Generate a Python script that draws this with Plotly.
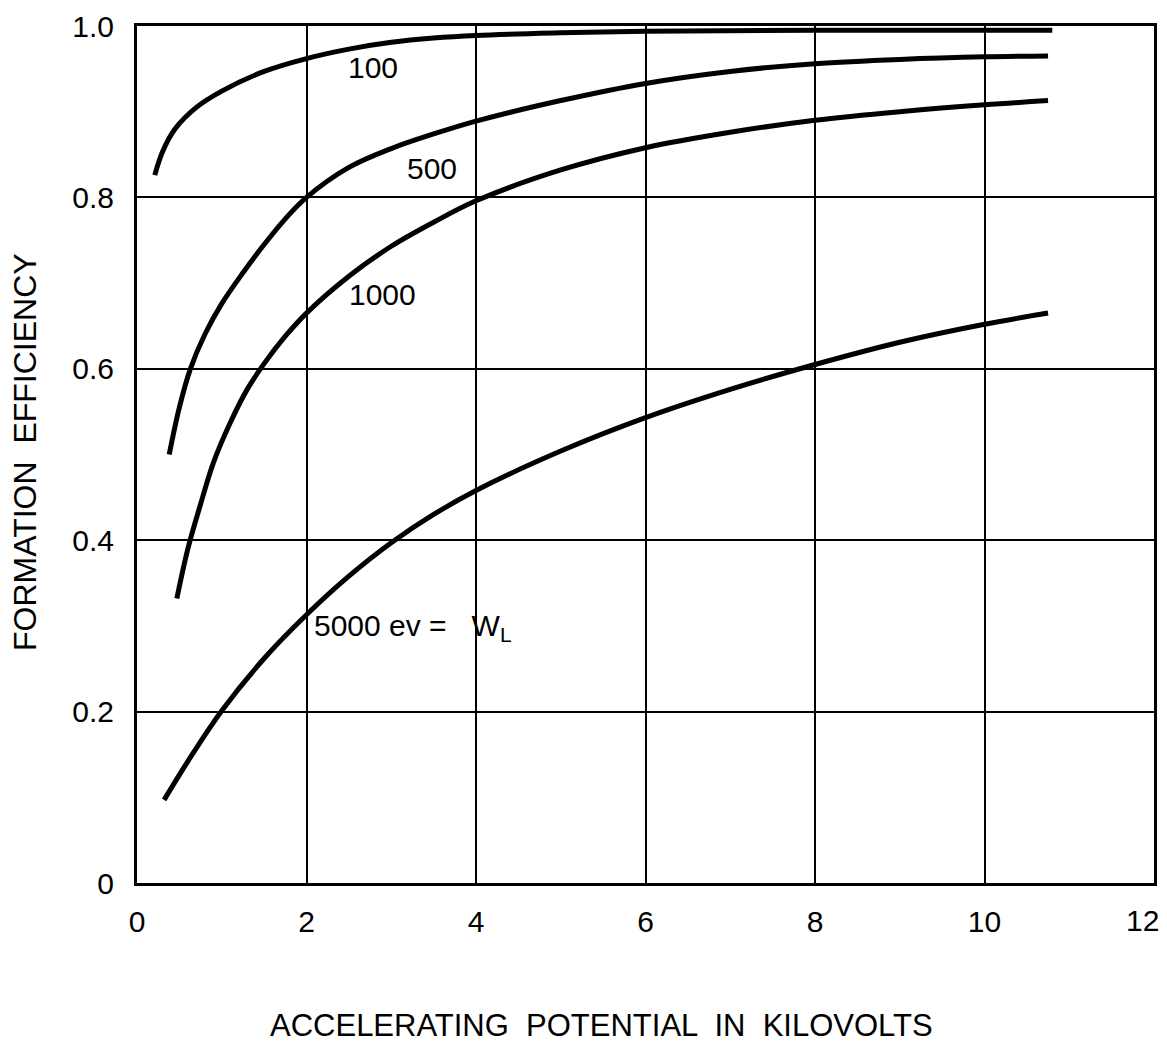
import plotly.graph_objects as go

# ---- data ----
x_100 = [0.21, 0.3, 0.45, 0.7, 1.0, 1.5, 2.0, 2.5, 3.0, 3.5, 4.0, 5.0, 6.0, 8.0, 10.8]
y_100 = [0.826, 0.853, 0.880, 0.905, 0.924, 0.947, 0.962, 0.973, 0.981, 0.986, 0.989, 0.992, 0.994, 0.995, 0.995]

x_500 = [0.38, 0.5, 0.63, 0.8, 1.0, 1.25, 1.5, 1.75, 2.0, 2.5, 3.0, 3.5, 4.0, 5.0, 6.0, 7.0, 8.0, 9.0, 10.0, 10.75]
y_500 = [0.50, 0.555, 0.60, 0.640, 0.676, 0.712, 0.745, 0.775, 0.80, 0.835, 0.857, 0.874, 0.889, 0.913, 0.933, 0.947, 0.956, 0.961, 0.964, 0.965]

x_1000 = [0.47, 0.6, 0.75, 0.9, 1.1, 1.3, 1.5, 1.75, 2.0, 2.5, 3.0, 3.5, 4.0, 5.0, 6.0, 7.0, 8.0, 9.0, 10.0, 10.75]
y_1000 = [0.332, 0.39, 0.442, 0.49, 0.537, 0.576, 0.606, 0.638, 0.665, 0.708, 0.743, 0.771, 0.796, 0.832, 0.858, 0.876, 0.890, 0.900, 0.908, 0.913]

x_5000 = [0.32, 0.6, 1.0, 1.5, 2.0, 2.5, 3.0, 3.5, 4.0, 5.0, 6.0, 7.0, 8.0, 9.0, 10.0, 10.75]
y_5000 = [0.097, 0.142, 0.201, 0.262, 0.313, 0.358, 0.397, 0.430, 0.458, 0.504, 0.543, 0.576, 0.605, 0.631, 0.652, 0.665]

curve_labels = ["100", "500", "1000", "5000 ev =   W<sub>L</sub>"]
label_x = [2.78, 3.48, 2.9, 2.07]
label_y = [0.951, 0.834, 0.687, 0.298]

x_ticks = [0, 2, 4, 6, 8, 10]
x_ticktext = ["0", "2", "4", "6", "8", "10"]
x_last_tick = 12
x_last_ticktext = "12"
y_ticks = [0, 0.2, 0.4, 0.6, 0.8, 1.0]
y_ticktext = ["0", "0.2", "0.4", "0.6", "0.8", "1.0"]

x_title = "ACCELERATING  POTENTIAL  IN  KILOVOLTS"
y_title = "FORMATION  EFFICIENCY"

FONT = "Liberation Sans"

fig = go.Figure()
for xs, ys in [(x_100, y_100), (x_500, y_500), (x_1000, y_1000), (x_5000, y_5000)]:
    fig.add_trace(go.Scatter(x=xs, y=ys, mode="lines",
                             line=dict(color="black", width=5, shape="spline", smoothing=1.0),
                             showlegend=False, hoverinfo="skip"))

for t, lx, ly in zip(curve_labels, label_x, label_y):
    fig.add_annotation(x=lx, y=ly, text=t, showarrow=False,
                       xanchor="left" if t.startswith("5000") else "center",
                       yanchor="middle",
                       font=dict(family=FONT, size=30, color="black"))

# last x tick label, nudged inward so it stays inside the page (as in the reference)
fig.add_annotation(x=x_last_tick, xref="x", yref="paper", y=0, yshift=-19,
                   text=x_last_ticktext, showarrow=False, xanchor="center", yanchor="top",
                   xshift=-12, font=dict(family=FONT, size=30, color="black"))

fig.add_annotation(xref="paper", yref="paper", x=(601 - 137) / 1017, y=-(1025 - 883) / 857,
                   text=x_title, showarrow=False, xanchor="center", yanchor="middle",
                   font=dict(family=FONT, size=31, color="black"))
fig.add_annotation(xref="paper", yref="paper", x=-(137 - 25) / 1017, y=(883 - 452) / 857,
                   text=y_title, showarrow=False, textangle=-90, xanchor="center", yanchor="middle",
                   font=dict(family=FONT, size=32, color="black"))

fig.update_xaxes(range=[0, 12], tickvals=x_ticks, ticktext=x_ticktext,
                 showgrid=True, gridcolor="black", gridwidth=2,
                 showline=True, linecolor="black", linewidth=3, mirror=True,
                 zeroline=False, ticks="", ticklabelstandoff=10, automargin=False,
                 tickfont=dict(family=FONT, size=30, color="black"))
fig.update_yaxes(range=[0, 1.0], tickvals=y_ticks, ticktext=y_ticktext,
                 showgrid=True, gridcolor="black", gridwidth=2,
                 showline=True, linecolor="black", linewidth=3, mirror=True,
                 zeroline=False, ticks="", ticklabelstandoff=14, automargin=False,
                 tickfont=dict(family=FONT, size=30, color="black"))

fig.update_layout(width=1167, height=1049,
                  margin=dict(l=137, r=13, t=26, b=166),
                  paper_bgcolor="white", plot_bgcolor="white",
                  showlegend=False)

fig.write_html("out.html")
